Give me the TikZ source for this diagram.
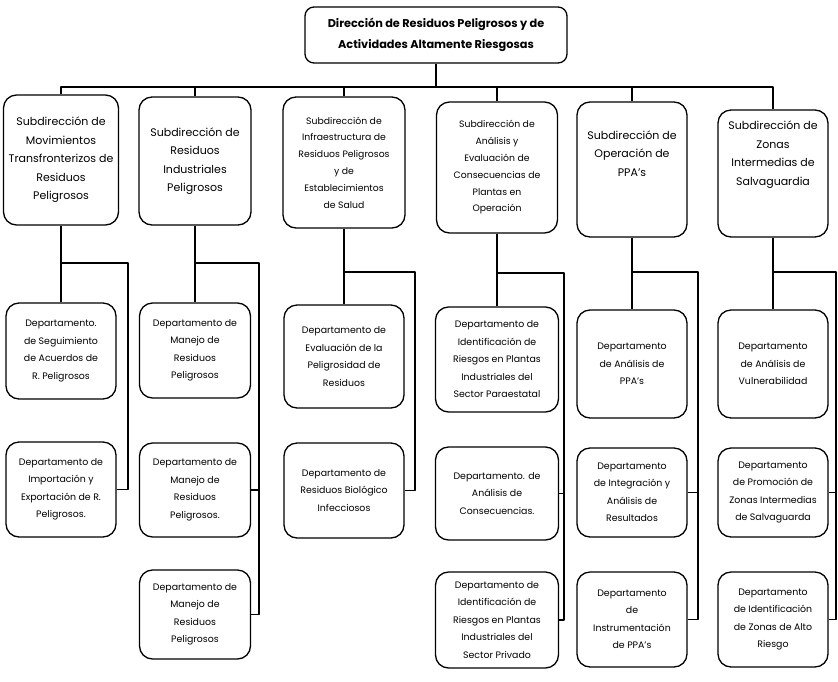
\documentclass[tikz,border=0pt]{standalone}
\usepackage{fontspec}
\setmainfont{Poppins}
\begin{document}
\begin{tikzpicture}[x=1pt,y=-1pt,
  ln/.style={line width=1.2pt,line join=round},
  orgbox/.style={draw,line width=1.3pt,rounded corners=13pt,align=center,inner sep=1pt,
    font=\fontsize{9.4}{17.5}\selectfont},
  subbox/.style={orgbox,font=\fontsize{11}{18.5}\selectfont},
  smallsub/.style={orgbox,font=\fontsize{9.3}{16.8}\selectfont},
  topbox/.style={draw,line width=1.3pt,rounded corners=9pt,align=center,
    font=\fontsize{11.3}{21}\selectfont\bfseries}]
\useasboundingbox (0,0) rectangle (838,681);

% top
\node[topbox,minimum width=262pt,minimum height=56pt] (T) at (436,35)
  {Dirección de Residuos Peligrosos y de\\Actividades Altamente Riesgosas};

% subdirecciones
\node[subbox,minimum width=115pt,minimum height=130pt] (s1) at (61,160)
  {Subdirección de\\Movimientos\\Transfronterizos de\\Residuos\\Peligrosos};
\node[subbox,minimum width=112pt,minimum height=128pt] (s2) at (195,161)
  {Subdirección de\\Residuos\\Industriales\\Peligrosos};
\node[smallsub,minimum width=122pt,minimum height=131pt] (s3) at (344,162.5)
  {Subdirección de\\Infraestructura de\\Residuos Peligrosos\\y de\\Establecimientos\\de Salud};
\node[smallsub,minimum width=121pt,minimum height=131pt] (s4) at (497,167.5)
  {Subdirección de\\Análisis y\\Evaluación de\\Consecuencias de\\Plantas en\\Operación};
\node[subbox,minimum width=110pt,minimum height=135pt] (s5) at (632,169.5)
  {Subdirección de\\Operación de\\PPA's\\[14pt]};
\node[subbox,minimum width=110pt,minimum height=127pt] (s6) at (773,173.5)
  {Subdirección de\\Zonas\\Intermedias de\\Salvaguardia\\[22pt]};

% bus
\coordinate (bus) at (436,87);
\draw[ln] (T.south) -- (bus);
\draw[ln] (s1.north) -- (s1.north |- bus) -- (s6.north |- bus) -- (s6.north);
\foreach \s in {s2,s3,s4,s5} \draw[ln] (\s.north) -- (\s.north |- bus);

% column 1
\node[orgbox,minimum width=110pt,minimum height=96pt] (d11) at (61,351)
  {Departamento.\\de Seguimiento\\de Acuerdos de\\R. Peligrosos};
\node[orgbox,minimum width=110pt,minimum height=95pt] (d12) at (61,489.5)
  {Departamento de\\Importación y\\Exportación de R.\\Peligrosos.};
\coordinate (r1) at (128,263);
\draw[ln] (s1.south) -- (d11.north);
\draw[ln] (s1.south |- r1) -- (r1) |- (d12.east);

% column 2
\node[orgbox,minimum width=111pt,minimum height=95pt] (d21) at (195,350.5)
  {Departamento de\\Manejo de\\Residuos\\Peligrosos};
\node[orgbox,minimum width=111pt,minimum height=94pt] (d22) at (195,490)
  {Departamento de\\Manejo de\\Residuos\\Peligrosos.};
\node[orgbox,minimum width=111pt,minimum height=89pt] (d23) at (195,614.5)
  {Departamento de\\Manejo de\\Residuos\\Peligrosos};
\coordinate (r2) at (259,263);
\draw[ln] (s2.south) -- (d21.north);
\draw[ln] (s2.south |- r2) -- (r2) |- (d22.east);
\draw[ln] (r2) |- (d23.east);

% column 3
\node[orgbox,minimum width=120pt,minimum height=103pt] (d31) at (344,356.5)
  {Departamento de\\Evaluación de la\\Peligrosidad de\\Residuos};
\node[orgbox,minimum width=120pt,minimum height=95pt] (d32) at (344,490.5)
  {Departamento de\\Residuos Biológico\\Infecciosos};
\coordinate (r3) at (415,272);
\draw[ln] (s3.south) -- (d31.north);
\draw[ln] (s3.south |- r3) -- (r3) |- (d32.east);

% column 4
\node[orgbox,minimum width=123pt,minimum height=105pt] (d41) at (497,359.5)
  {Departamento de\\Identificación de\\Riesgos en Plantas\\Industriales del\\Sector Paraestatal};
\node[orgbox,minimum width=123pt,minimum height=93pt] (d42) at (497,493.5)
  {Departamento. de\\Análisis de\\Consecuencias.};
\node[orgbox,minimum width=123pt,minimum height=96pt] (d43) at (497,620)
  {Departamento de\\Identificación de\\Riesgos en Plantas\\Industriales del\\Sector Privado};
\coordinate (r4) at (564,273);
\draw[ln] (s4.south) -- (d41.north);
\draw[ln] (s4.south |- r4) -- (r4) |- (d42.east);
\draw[ln] (r4) |- (d43.east);

% column 5
\node[orgbox,minimum width=110pt,minimum height=108pt] (d51) at (632,364)
  {Departamento\\de Análisis de\\PPA's};
\node[orgbox,minimum width=110pt,minimum height=89pt] (d52) at (632,492.5)
  {Departamento\\de Integración y\\Análisis de\\Resultados};
\node[orgbox,minimum width=110pt,minimum height=95pt] (d53) at (632,619.5)
  {Departamento\\de\\Instrumentación\\de PPA's};
\coordinate (r5) at (698,272);
\draw[ln] (s5.south) -- (d51.north);
\draw[ln] (s5.south |- r5) -- (r5) |- (d52.east);
\draw[ln] (r5) |- (d53.east);

% column 6
\node[orgbox,minimum width=110pt,minimum height=108pt] (d61) at (773,364)
  {Departamento\\de Análisis de\\Vulnerabilidad};
\node[orgbox,minimum width=110pt,minimum height=89pt] (d62) at (773,492.5)
  {Departamento\\de Promoción de\\Zonas Intermedias\\de Salvaguarda};
\node[orgbox,minimum width=110pt,minimum height=95pt] (d63) at (773,619.5)
  {Departamento\\de Identificación\\de Zonas de Alto\\Riesgo};
\coordinate (r6) at (836,272);
\draw[ln] (s6.south) -- (d61.north);
\draw[ln] (s6.south |- r6) -- (r6) |- (d62.east);
\draw[ln] (r6) |- (d63.east);
\end{tikzpicture}
\end{document}
